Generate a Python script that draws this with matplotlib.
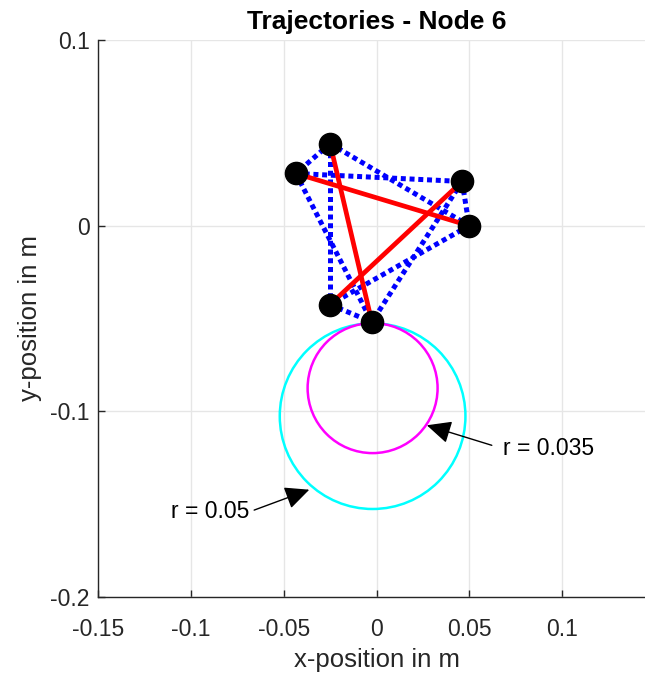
import matplotlib.pyplot as plt

plt.rcParams['font.family'] = ['Liberation Sans', 'DejaVu Sans']

# posiciones de los nodos (m)
node_x = [-0.0250, -0.0434, 0.0461, 0.0499, -0.0250, -0.0025]
node_y = [0.0442, 0.0281, 0.0238, 0.0000, -0.0425, -0.0519]

# trayectorias punteadas y enlaces rojos (indices de nodos)
dotted_edges = [(0, 1), (0, 3), (0, 4), (1, 2), (1, 5), (2, 3), (2, 5), (3, 4), (4, 5)]
red_edges = [(1, 3), (0, 5), (4, 2)]

# circulos
circle_cx = [-0.0021, -0.0021]
circle_cy = [-0.1026, -0.0875]
circle_r = [0.05, 0.035]
circle_colors = ['cyan', 'magenta']

# anotaciones
ann_text = ['r = 0.035', 'r = 0.05']
ann_text_xy = [(0.0680, -0.1199), (-0.0685, -0.1542)]
ann_tail = [(0.0621, -0.1183), (-0.0659, -0.1532)]
ann_tip = [(0.0271, -0.1075), (-0.0362, -0.1422)]

xticks = [-0.15, -0.1, -0.05, 0, 0.05, 0.1]
xtick_labels = ['-0.15', '-0.1', '-0.05', '0', '0.05', '0.1']
yticks = [-0.2, -0.1, 0, 0.1]
ytick_labels = ['-0.2', '-0.1', '0', '0.1']

fig = plt.figure(figsize=(6.45, 6.77), dpi=100)
ax = fig.add_axes([98 / 645, 80 / 677, 557 / 645, 557 / 677])

# circulos
for cx, cy, r, c in zip(circle_cx, circle_cy, circle_r, circle_colors):
    ax.add_patch(plt.Circle((cx, cy), r, fill=False, color=c, lw=1.8, zorder=2))

# trayectorias
for a, b in dotted_edges:
    ax.plot([node_x[a], node_x[b]], [node_y[a], node_y[b]], color='blue', lw=3.6,
            linestyle=(0, (1, 0.75)), zorder=3)

for a, b in red_edges:
    ax.plot([node_x[a], node_x[b]], [node_y[a], node_y[b]], color='red', lw=3.4, zorder=4)

ax.plot(node_x, node_y, 'o', color='black', markersize=16, zorder=5)

# flechas
ax.text(*ann_text_xy[0], ann_text[0], ha='left', va='center', fontsize=16.5)
ax.text(*ann_text_xy[1], ann_text[1], ha='right', va='center', fontsize=16.5)
for tail, tip in zip(ann_tail, ann_tip):
    ax.annotate('', xy=tip, xytext=tail,
                arrowprops=dict(arrowstyle='-|>,head_length=0.75,head_width=0.35',
                                color='black', lw=1.0, mutation_scale=20,
                                shrinkA=0, shrinkB=0))

ax.set_xlim(-0.15, 0.15)
ax.set_ylim(-0.2, 0.1)
ax.set_xticks(xticks)
ax.set_xticklabels(xtick_labels)
ax.set_yticks(yticks)
ax.set_yticklabels(ytick_labels)
ax.tick_params(direction='in', length=5, width=1, color='#262626', labelsize=16.5,
               labelcolor='#262626', pad=6)
ax.tick_params(axis='x', pad=15)
ax.grid(True, color='#e6e6e6', lw=1)
ax.set_axisbelow(True)
for s in ['top', 'right']:
    ax.spines[s].set_visible(False)
for s in ['left', 'bottom']:
    ax.spines[s].set_color('#262626')
    ax.spines[s].set_linewidth(1)

ax.set_title('Trajectories - Node 6', fontsize=19, fontweight='bold', pad=8)
ax.set_xlabel('x-position in m', fontsize=18.5, color='#262626', labelpad=5)
ax.set_ylabel('y-position in m', fontsize=18.5, color='#262626', labelpad=6)

fig.savefig('out.png', dpi=100)
